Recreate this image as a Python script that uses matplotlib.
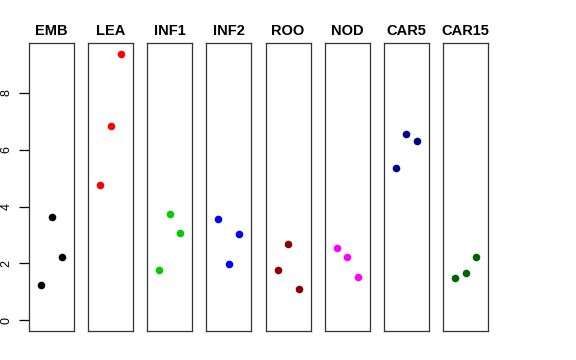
import matplotlib
matplotlib.use("Agg")
import matplotlib.pyplot as plt

plt.rcParams["font.family"] = ["Liberation Sans", "DejaVu Sans"]

# tissue groups and their three replicate values
tissues = ["EMB", "LEA", "INF1", "INF2", "ROO", "NOD", "CAR5", "CAR15"]
emb = [1.26, 3.64, 2.23]
lea = [4.75, 6.85, 9.38]
inf1 = [1.77, 3.73, 3.07]
inf2 = [3.58, 1.97, 3.03]
roo = [1.76, 2.69, 1.10]
nod = [2.56, 2.22, 1.54]
car5 = [5.36, 6.54, 6.31]
car15 = [1.50, 1.65, 2.22]
values = [emb, lea, inf1, inf2, roo, nod, car5, car15]
colors = ["black", "red", "#00CD00", "blue", "#8B0000", "magenta", "#00008B", "#006400"]
yticks = [0, 2, 4, 6, 8]

W, H = 576, 360
fig = plt.figure(figsize=(W / 100, H / 100), dpi=100)

ymax = max(max(v) for v in values)
ylo, yhi = -0.04 * ymax, ymax * 1.04
offsets = [-0.234, 0.0, 0.234]

left0, step, pw = 29, 59.15, 45
top, bottom = 43, 331
for i, (name, vals, col) in enumerate(zip(tissues, values, colors)):
    x0 = left0 + i * step
    ax = fig.add_axes([x0 / W, (H - bottom) / H, pw / W, (bottom - top) / H])
    ax.scatter([1 + o for o in offsets], vals, s=30, color=col, zorder=3, linewidths=0)
    ax.set_xlim(0.5, 1.5)
    ax.set_ylim(ylo, yhi)
    ax.set_xticks([])
    for sp in ax.spines.values():
        sp.set_linewidth(0.9)
        sp.set_color("#333333")
    ax.set_title(name, fontsize=10.5, fontweight="bold", pad=6)
    if i == 0:
        ax.set_yticks(yticks)
        ax.set_yticklabels([str(t) for t in yticks], rotation=90, va="center", fontsize=9)
        ax.tick_params(axis="y", length=7, width=0.9, pad=5)
    else:
        ax.set_yticks([])

fig.savefig("out.png", dpi=100)
